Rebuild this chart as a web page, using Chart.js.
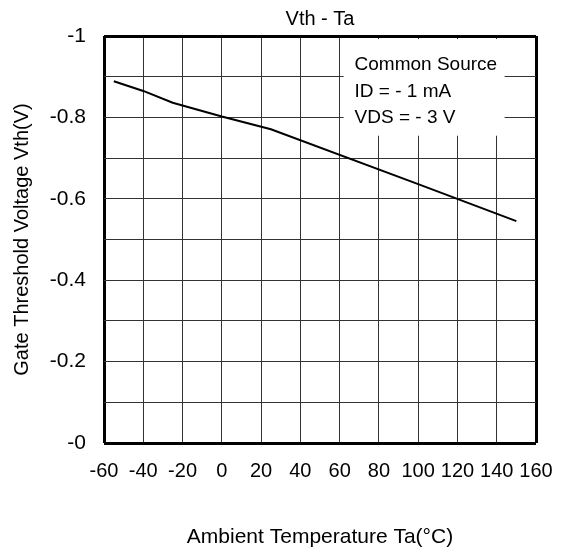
<!DOCTYPE html>
<html>
<head>
<meta charset="utf-8">
<script src="https://cdn.jsdelivr.net/npm/chart.js@4/dist/chart.umd.min.js"></script>
<style>
  body { margin: 0; background: #fff; }
  #wrap { width: 561px; height: 552px; }
</style>
</head>
<body>
<div id="wrap"><canvas id="chart"></canvas></div>
<script>
// Vth - Ta curve
const temps = [-55, -40, -25, 0, 25, 100, 150];
const vth = [-0.889, -0.865, -0.836, -0.802, -0.771, -0.636, -0.545];

const conditions = ['Common Source', 'ID = - 1 mA', 'VDS = - 3 V'];

const FONT = '"Liberation Sans", Arial, sans-serif';

// white note box over the grid, top right corner
const notePlugin = {
    id: 'note',
    beforeDatasetsDraw(chart) {
        const { ctx, chartArea } = chart;
        const x = chart.scales.x.getPixelForValue(62);
        const w = chart.scales.x.getPixelForValue(144) - x;
        const y = chartArea.top + 3;
        const h = chart.scales.y.getPixelForValue(-0.755) - y;
        ctx.save();
        ctx.fillStyle = '#fff';
        ctx.fillRect(x, y, w, h);
        ctx.fillStyle = '#000';
        ctx.font = '19px ' + FONT;
        ctx.textBaseline = 'alphabetic';
        conditions.forEach((t, i) => {
            ctx.fillText(t, x + 11, chartArea.top + 34 + i * 26.5);
        });
        ctx.restore();
    }
};

function edgeWidth(ctx) {
    const n = ctx.scale.ticks.length;
    return (ctx.index === 0 || ctx.index === n - 1) ? 3 : 1;
}
function edgeColor(ctx) {
    const n = ctx.scale.ticks.length;
    return (ctx.index === 0 || ctx.index === n - 1) ? '#000' : '#333';
}

new Chart(document.getElementById('chart'), {
    type: 'line',
    data: {
        datasets: [{
            data: temps.map((t, i) => ({ x: t, y: vth[i] })),
            borderColor: '#000',
            borderWidth: 2,
            pointRadius: 0,
            tension: 0,
            fill: false
        }]
    },
    options: {
        responsive: true,
        maintainAspectRatio: false,
        animation: false,
        layout: { padding: { left: 0, right: 25, top: 7, bottom: 2 } },
        plugins: {
            legend: { display: false },
            tooltip: { enabled: false },
            title: {
                display: true,
                text: 'Vth - Ta',
                color: '#000',
                fullSize: false,
                font: { family: FONT, size: 20, weight: 'normal' },
                padding: { top: 0, bottom: 5 }
            }
        },
        scales: {
            x: {
                type: 'linear',
                min: -60,
                max: 160,
                afterFit(scale) {
                    scale.height = 107;
                    scale.paddingLeft = 0;
                    scale.paddingRight = 0;
                },
                ticks: {
                    stepSize: 20,
                    color: '#000',
                    padding: 16,
                    maxRotation: 0,
                    autoSkip: false,
                    font: { family: FONT, size: 20 }
                },
                grid: { drawTicks: false, lineWidth: edgeWidth, color: edgeColor },
                border: { display: false },
                title: {
                    display: true,
                    text: 'Ambient Temperature Ta(°C)',
                    color: '#000',
                    font: { family: FONT, size: 21 },
                    padding: { top: 28, bottom: 0 }
                }
            },
            y: {
                type: 'linear',
                min: -1,
                max: 0,
                reverse: true,
                afterFit(scale) {
                    scale.width = 104;
                    scale.paddingTop = 0;
                    scale.paddingBottom = 0;
                },
                ticks: {
                    stepSize: 0.1,
                    color: '#000',
                    padding: 18,
                    autoSkip: false,
                    font: { family: FONT, size: 21 },
                    callback: function(value, index) {
                        if (index % 2 !== 0) return '';
                        if (Math.abs(value) < 1e-9) return '-0';
                        return String(Number(value.toFixed(1)));
                    }
                },
                grid: { drawTicks: false, lineWidth: edgeWidth, color: edgeColor },
                border: { display: false },
                title: {
                    display: true,
                    text: 'Gate Threshold Voltage Vth(V)',
                    color: '#000',
                    font: { family: FONT, size: 20 },
                    padding: { top: 10, bottom: 8 }
                }
            }
        }
    },
    plugins: [notePlugin]
});
</script>
</body>
</html>
